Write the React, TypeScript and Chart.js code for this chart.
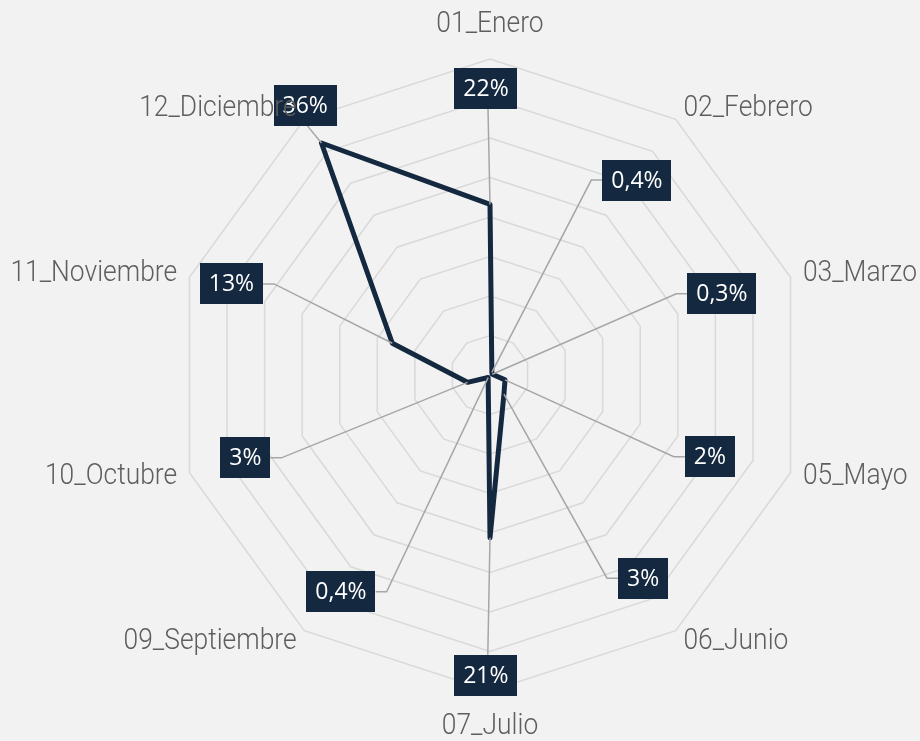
import React, { useEffect, useRef } from "react";
import { Chart, registerables } from "chart.js";

Chart.register(...registerables);

// ---- data ----
const categories = [
  "01_Enero",
  "02_Febrero",
  "03_Marzo",
  "05_Mayo",
  "06_Junio",
  "07_Julio",
  "09_Septiembre",
  "10_Octubre",
  "11_Noviembre",
  "12_Diciembre",
];
const shares = [21.6, 0.4, 0.3, 2, 3, 20.6, 0.4, 3, 13, 36.3];
// where each data label sits (distance in % units, angle in degrees clockwise from top)
const labelDistance = [36.3, 30.9, 31.1, 29.7, 32.2, 38.0, 33.3, 32.7, 34.7, 41.4];
const labelAngle = [-0.8, 37.0, 70.7, 110.4, 143.0, 180.8, 214.5, 251.3, 289.4, 325.6];
const labelSide = ["bottom", "left", "left", "left", "left", "top", "right", "right", "right", "bottom"];
const scaleMin = 0;
const scaleMax = 40;
const scaleStep = 5;

const NAVY = "#142840";
const BG = "#f2f2f2";

function fmt(v: number): string {
  if (v < 1) return v.toFixed(1).replace(".", ",") + "%";
  return Math.round(v) + "%";
}

const bgPlugin = {
  id: "bgFill",
  beforeDraw(chart: any) {
    const ctx = chart.ctx;
    ctx.save();
    ctx.fillStyle = BG;
    ctx.fillRect(0, 0, chart.width, chart.height);
    ctx.restore();
  },
};

const labelPlugin = {
  id: "dataLabelsAndCategories",
  afterDatasetsDraw(chart: any) {
    const scale = chart.scales.r;
    const meta = chart.getDatasetMeta(0);
    const ctx = chart.ctx;
    ctx.save();
    ctx.font = '23px "Open Sans", "Noto Sans", sans-serif';
    shares.forEach((v, i) => {
      const pt = meta.data[i];
      const d = scale.getDistanceFromCenterForValue(labelDistance[i]);
      const a = (labelAngle[i] * Math.PI) / 180;
      const cx = scale.xCenter + d * Math.sin(a);
      const cy = scale.yCenter - d * Math.cos(a);
      const text = fmt(v);
      const w = ctx.measureText(text).width + 18;
      const h = 41;
      ctx.strokeStyle = "#a6a6a6";
      ctx.lineWidth = 1.5;
      ctx.beginPath();
      ctx.moveTo(pt.x, pt.y);
      const side = labelSide[i];
      if (side === "left") {
        ctx.lineTo(cx - w / 2 - 11, cy);
        ctx.lineTo(cx - w / 2, cy);
      } else if (side === "right") {
        ctx.lineTo(cx + w / 2 + 11, cy);
        ctx.lineTo(cx + w / 2, cy);
      } else if (side === "bottom") {
        ctx.lineTo(cx + 2, cy + h / 2);
      } else {
        ctx.lineTo(cx + 2, cy - h / 2);
      }
      ctx.stroke();
      ctx.fillStyle = NAVY;
      ctx.fillRect(Math.round(cx - w / 2), Math.round(cy - h / 2), Math.round(w), h);
      ctx.fillStyle = "#ffffff";
      ctx.textAlign = "center";
      ctx.textBaseline = "middle";
      ctx.fillText(text, cx, cy + 1);
    });

    // category labels around the web
    ctx.font = '300 30px "Roboto", "Noto Sans", sans-serif';
    ctx.fillStyle = "#5e5e5e";
    ctx.textBaseline = "middle";
    categories.forEach((c, i) => {
      const ang = scale.getIndexAngle(i);
      const s = Math.sin(ang);
      const vertical = Math.abs(s) < 0.01;
      const p = scale.getPointPosition(i, scale.drawingArea + (vertical ? 35 : 13));
      ctx.textAlign = vertical ? "center" : s > 0 ? "left" : "right";
      ctx.save();
      ctx.translate(p.x, p.y);
      ctx.scale(0.88, 1);
      ctx.fillText(c, 0, 0);
      ctx.restore();
    });
    ctx.restore();
  },
};

export default function App() {
  const ref = useRef<HTMLCanvasElement | null>(null);

  useEffect(() => {
    document.body.style.margin = "0";
    document.body.style.background = BG;
    if (!ref.current) return;
    const chart = new Chart(ref.current, {
      type: "radar",
      data: {
        labels: categories,
        datasets: [
          {
            data: shares,
            borderColor: NAVY,
            borderWidth: 5,
            borderJoinStyle: "round",
            pointRadius: 0,
            pointHoverRadius: 0,
            fill: false,
            tension: 0,
          },
        ],
      },
      options: {
        responsive: false,
        animation: false,
        layout: { padding: { left: 60, right: 0, top: 59, bottom: 50 } },
        plugins: {
          legend: { display: false },
          tooltip: { enabled: false },
        },
        scales: {
          r: {
            min: scaleMin,
            max: scaleMax,
            ticks: { display: false, stepSize: scaleStep },
            grid: { color: "#d9d9d9", lineWidth: 1.5 },
            angleLines: { display: false },
            pointLabels: { display: false },
          },
        },
      },
      plugins: [bgPlugin, labelPlugin],
    } as any);
    const fonts = (document as any).fonts;
    if (fonts && fonts.load) {
      Promise.all([
        fonts.load('300 30px "Roboto"'),
        fonts.load('23px "Open Sans"'),
      ])
        .then(() => chart.draw())
        .catch(() => {});
    }
    return () => chart.destroy();
  }, []);

  return (
    <div style={{ width: 920, height: 741, background: BG }}>
      <canvas ref={ref} width={920} height={741} style={{ display: "block" }} />
    </div>
  );
}
